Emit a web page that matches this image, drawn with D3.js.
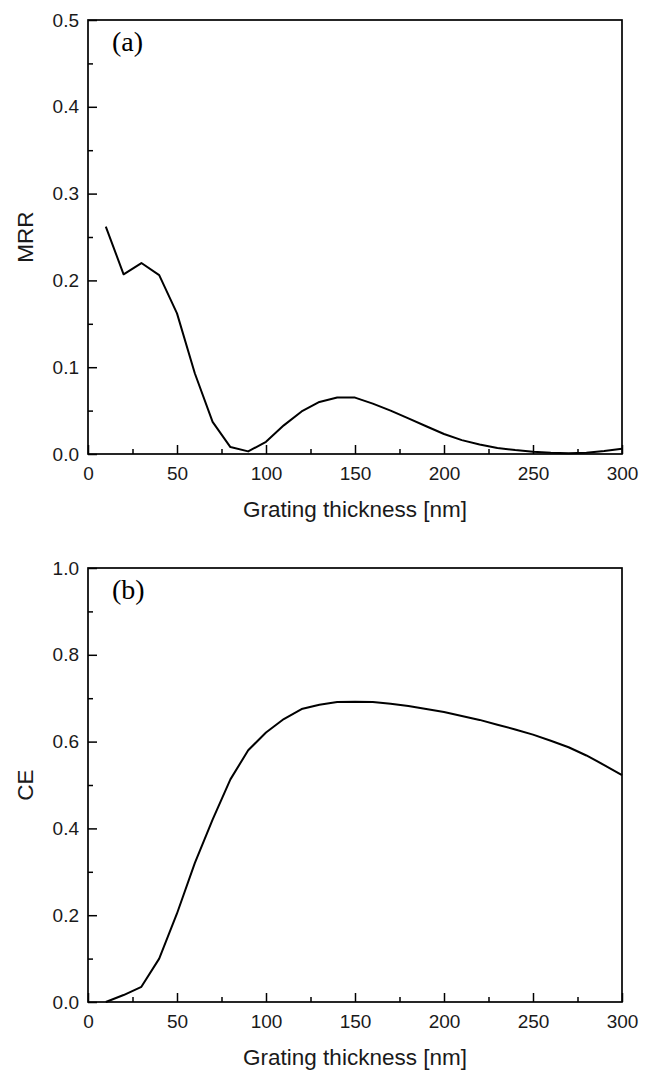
<!DOCTYPE html>
<html>
<head>
<meta charset="utf-8">
<script src="https://cdn.jsdelivr.net/npm/d3@7"></script>
<style>
  html, body { margin: 0; padding: 0; background: #fff; }
  svg { display: block; }
</style>
</head>
<body>
<svg id="chart" width="649" height="1070"></svg>
<script>
// ---- data ----
const thickness = [10,20,30,40,50,60,70,80,90,100,110,120,130,140,150,160,170,180,190,200,210,220,230,240,250,260,270,280,290,300];
const mrr = [0.262,0.207,0.220,0.206,0.162,0.093,0.037,0.008,0.003,0.014,0.033,0.049,0.060,0.065,0.065,0.058,0.050,0.041,0.032,0.023,0.016,0.011,0.007,0.0046,0.0027,0.0015,0.001,0.0015,0.0035,0.006];
const ce = [0.000,0.016,0.035,0.100,0.204,0.320,0.420,0.513,0.580,0.621,0.652,0.675,0.685,0.691,0.692,0.691,0.687,0.682,0.675,0.668,0.659,0.650,0.639,0.628,0.616,0.602,0.587,0.568,0.546,0.523];
const xTicks = [0,50,100,150,200,250,300];
const xMinor = [25,75,125,175,225,275];
const mrrTicks = [0.0,0.1,0.2,0.3,0.4,0.5];
const mrrMinor = [0.05,0.15,0.25,0.35,0.45];
const ceTicks = [0.0,0.2,0.4,0.6,0.8,1.0];
const ceMinor = [0.1,0.3,0.5,0.7,0.9];

const svg = d3.select("#chart");
const sans = "'Liberation Sans', Arial, sans-serif";
const serif = "'Liberation Serif', 'Times New Roman', serif";

function panel(cfg) {
  const left = 88, right = 622, top = cfg.top, bottom = cfg.bottom;
  const x = d3.scaleLinear().domain([0, 300]).range([left, right]);
  const y = d3.scaleLinear().domain(cfg.yDomain).range([bottom, top]);
  const g = svg.append("g");

  // minor ticks
  g.append("g").attr("transform", `translate(0,${bottom})`)
    .call(d3.axisBottom(x).tickValues(xMinor).tickSize(-5).tickFormat(""))
    .call(s => s.select(".domain").remove());
  g.append("g").attr("transform", `translate(${left},0)`)
    .call(d3.axisLeft(y).tickValues(cfg.yMinor).tickSize(-5).tickFormat(""))
    .call(s => s.select(".domain").remove());

  // major ticks
  const xa = g.append("g").attr("transform", `translate(0,${bottom})`)
    .call(d3.axisBottom(x).tickValues(xTicks).tickSize(-9).tickPadding(13).tickFormat(d3.format("d")));
  xa.select(".domain").remove();
  const ya = g.append("g").attr("transform", `translate(${left},0)`)
    .call(d3.axisLeft(y).tickValues(cfg.yTicks).tickSize(-9).tickPadding(9).tickFormat(d3.format(".1f")));
  ya.select(".domain").remove();

  g.selectAll(".tick line").attr("stroke", "#000").attr("stroke-width", 1.5);
  g.selectAll(".tick text").attr("font-family", sans).attr("font-size", 19).attr("fill", "#1a1a1a");

  // frame
  g.append("rect")
    .attr("x", left).attr("y", top)
    .attr("width", right - left).attr("height", bottom - top)
    .attr("fill", "none").attr("stroke", "#000").attr("stroke-width", 1.7);

  // curve
  const line = d3.line().x((d, i) => x(thickness[i])).y(d => y(d));
  g.append("path").datum(cfg.values)
    .attr("d", line).attr("fill", "none")
    .attr("stroke", "#000").attr("stroke-width", 2)
    .attr("stroke-linejoin", "round");

  // panel letter
  g.append("text").attr("x", 112).attr("y", top + 31)
    .attr("font-family", serif).attr("font-size", 28).attr("fill", "#000")
    .text(cfg.letter);

  // axis titles
  g.append("text").attr("x", (left + right) / 2).attr("y", bottom + 63)
    .attr("text-anchor", "middle").attr("font-family", sans).attr("font-size", 22.5)
    .attr("fill", "#1a1a1a").text("Grating thickness [nm]");
  g.append("text")
    .attr("transform", `translate(33,${(top + bottom) / 2}) rotate(-90)`)
    .attr("text-anchor", "middle").attr("font-family", sans).attr("font-size", 22.5)
    .attr("fill", "#1a1a1a").text(cfg.yLabel);
}

panel({ top: 20, bottom: 454, yDomain: [0, 0.5], yTicks: mrrTicks, yMinor: mrrMinor, values: mrr, letter: "(a)", yLabel: "MRR" });
panel({ top: 568, bottom: 1002, yDomain: [0, 1.0], yTicks: ceTicks, yMinor: ceMinor, values: ce, letter: "(b)", yLabel: "CE" });
</script>
</body>
</html>
